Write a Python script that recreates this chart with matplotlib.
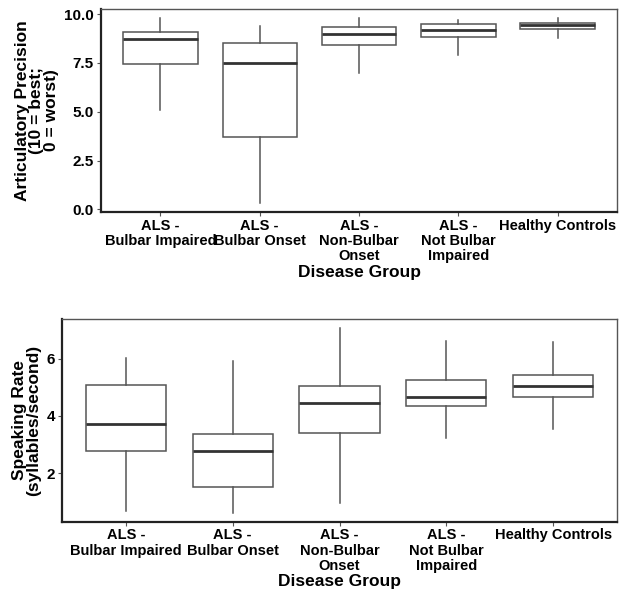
import matplotlib
matplotlib.use("Agg")
import matplotlib.pyplot as plt

plt.rcParams['font.family'] = ['Liberation Sans', 'DejaVu Sans']
plt.rcParams['font.weight'] = 'bold'

groups = ["ALS -\nBulbar Impaired", "ALS -\nBulbar Onset", "ALS -\nNon-Bulbar\nOnset",
          "ALS -\nNot Bulbar\nImpaired", "Healthy Controls"]

# articulatory precision: low whisker, q1, median, q3, high whisker
ap_low = [5.09, 0.31, 7.00, 7.91, 8.77]
ap_q1 = [7.47, 3.71, 8.43, 8.85, 9.25]
ap_med = [8.72, 7.52, 8.97, 9.19, 9.45]
ap_q3 = [9.08, 8.54, 9.36, 9.49, 9.55]
ap_high = [9.79, 9.40, 9.79, 9.71, 9.79]

# speaking rate
sr_low = [0.69, 0.60, 0.95, 3.22, 3.53]
sr_q1 = [2.78, 1.52, 3.40, 4.35, 4.64]
sr_med = [3.72, 2.78, 4.44, 4.65, 5.05]
sr_q3 = [5.08, 3.35, 5.05, 5.25, 5.44]
sr_high = [6.01, 5.93, 7.08, 6.61, 6.58]


def make_stats(lo, q1, med, q3, hi):
    out = []
    for i in range(len(lo)):
        out.append(dict(whislo=lo[i], q1=q1[i], med=med[i], q3=q3[i], whishi=hi[i], fliers=[]))
    return out


def draw(ax, stats, ylabel, ylim, yticks, yticklabels):
    ax.bxp(stats, positions=range(1, 6), widths=0.75, showcaps=False, patch_artist=True,
           boxprops=dict(facecolor='white', edgecolor='#555555', linewidth=1.1),
           whiskerprops=dict(color='#555555', linewidth=1.1),
           medianprops=dict(color='#333333', linewidth=2.0))
    ax.set_xlim(0.4, 5.6)
    ax.set_ylim(*ylim)
    ax.set_yticks(yticks)
    ax.set_yticklabels(yticklabels)
    ax.set_xticks(range(1, 6))
    ax.set_xticklabels(groups, fontsize=10.5, fontweight='bold', linespacing=1.1)
    ax.tick_params(axis='y', labelsize=11, length=3, color='#555555', pad=2)
    ax.tick_params(axis='x', length=3, color='#555555', pad=2)
    ax.set_xlabel("Disease Group", fontsize=12.5, fontweight='bold', labelpad=1)
    ax.set_ylabel(ylabel, fontsize=12.5, fontweight='bold', linespacing=0.95, labelpad=4)
    for s in ['left', 'bottom']:
        ax.spines[s].set_linewidth(1.6)
        ax.spines[s].set_color('#222222')
    for s in ['top', 'right']:
        ax.spines[s].set_linewidth(1.0)
        ax.spines[s].set_color('#555555')


fig = plt.figure(figsize=(6.19, 5.94), dpi=100)
ax1 = fig.add_axes([0.163, 0.643, 0.834, 0.342])
ax2 = fig.add_axes([0.100, 0.122, 0.897, 0.341])

draw(ax1, make_stats(ap_low, ap_q1, ap_med, ap_q3, ap_high),
     "Articulatory Precision\n(10 = best;\n0 = worst)", (-0.14, 10.27),
     [0, 2.5, 5, 7.5, 10], ["0.0", "2.5", "5.0", "7.5", "10.0"])
draw(ax2, make_stats(sr_low, sr_q1, sr_med, sr_q3, sr_high),
     "Speaking Rate\n(syllables/second)", (0.31, 7.38),
     [2, 4, 6], ["2", "4", "6"])

fig.savefig("out.png", dpi=100)
